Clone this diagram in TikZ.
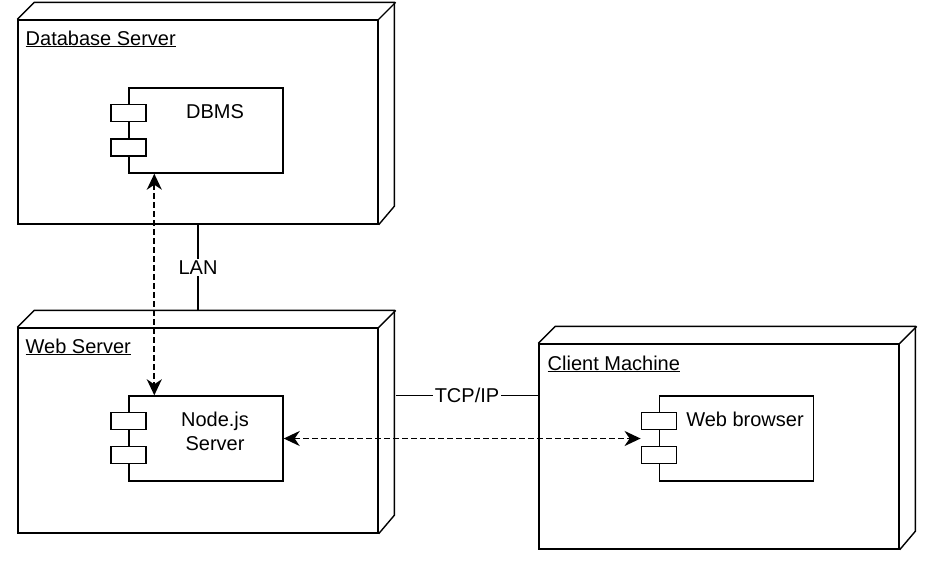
\documentclass[tikz,border=0pt]{standalone}
\usepackage{xcolor}
\usepackage{fontspec}
\setmainfont{Liberation Sans}
\usetikzlibrary{arrows.meta}

\begin{document}
\begin{tikzpicture}[x=1pt, y=-1pt, line width=1.4pt, font=\fontsize{20}{24}\selectfont,
	box/.style={draw, minimum width=360pt, minimum height=205pt, inner sep=0pt},
	comp/.style={draw, fill=white, minimum width=154pt, minimum height=85pt, inner sep=0pt},
	port/.style={draw, fill=white, minimum width=35pt, minimum height=17pt, inner sep=0pt},
	dep/.style={line width=1.7pt, dash pattern=on 5.5pt off 3.5pt, {Stealth[length=16pt, width=15pt, inset=5pt]}-{Stealth[length=16pt, width=15pt, inset=5pt]}}]
	\useasboundingbox (0,0) rectangle (940,566);

	\node[box, minimum height=204pt] (db) at (198, 122) {};
	\draw (db.north west) -- ++(17,-17) -- ++(360,0) -- ++(0,204) -- (db.south east);
	\draw (db.north east) -- ++(17,-17);
	\node[anchor = base west, inner sep=0pt] (dblabel) at (25, 45) {\underline{Database Server}};
	\node[comp] (dbms) at (206, 130.5) {};
	\node[port] (dbmsa) at ([yshift=-25.5pt]dbms.north west) {};
	\node[port] (dbmsb) at ([yshift=-60pt]dbms.north west) {};
	\node[anchor = base] (dbmstext) at (215, 118) {DBMS};

	\node[box] (web) at (198, 430.5) {};
	\draw (web.north west) -- ++(17,-17) -- ++(360,0) -- ++(0,205) -- (web.south east);
	\draw (web.north east) -- ++(17,-17);
	\node[anchor = base west, inner sep=0pt] (weblabel) at (25, 353) {\underline{Web Server}};
	\node[comp] (nodejs) at (206, 438.5) {};
	\node[port] (nodejsa) at ([yshift=-25.5pt]nodejs.north west) {};
	\node[port] (nodejsb) at ([yshift=-59.5pt]nodejs.north west) {};
	\node[align=center] (nodejstext) at (215, 431) {Node.js\\Server};

	\node[box] (client) at (719, 446.5) {};
	\draw (client.north west) -- ++(17,-17) -- ++(360,0) -- ++(0,205) -- (client.south east);
	\draw (client.north east) -- ++(17,-17);
	\node[anchor = base west, inner sep=0pt] (clientlabel) at (547, 370) {\underline{Client Machine}};
	\node[comp] (browser) at (736.5, 438.5) {};
	\node[port] (browsera) at ([yshift=-25.5pt]browser.north west) {};
	\node[port] (browserb) at ([yshift=-59.5pt]browser.north west) {};
	\node[anchor = base] (browsertext) at (745, 426) {Web browser};

	\draw (db.south) -- node[midway, fill=white, inner sep=2pt] (lan) {LAN} ([yshift=17pt]web.north);
	\draw ([xshift=17pt]web.east |- browser.north) -- node[midway, fill=white, inner sep=2pt] (tcp) {TCP/IP} (client.west |- browser.north);

	\draw[dep] ([xshift=26pt]dbms.south west) -- ([xshift=26pt]nodejs.north west);
	\draw[dep] (nodejs.east) -- (nodejs.east -| browsera.west);
\end{tikzpicture}
\end{document}
